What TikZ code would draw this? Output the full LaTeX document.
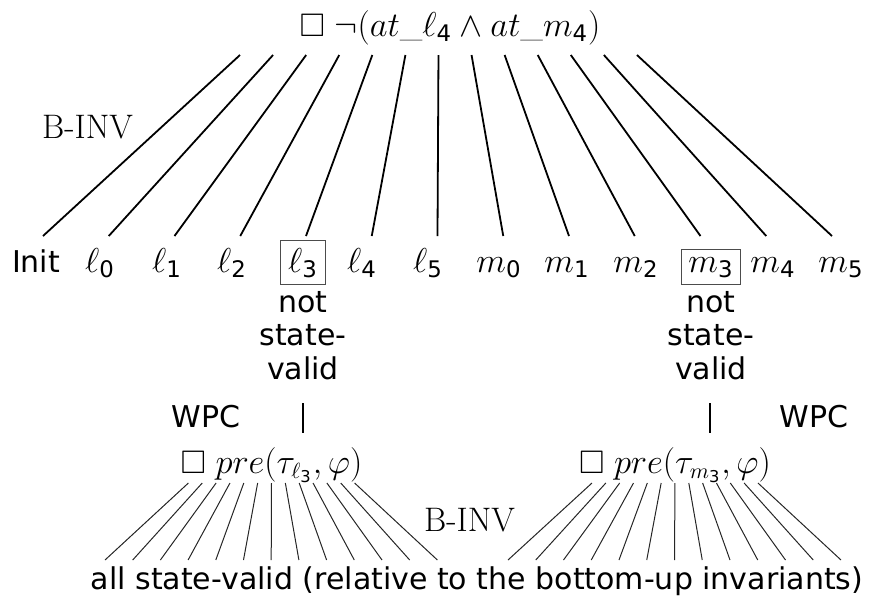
\documentclass[tikz,border=0pt]{standalone}
\usepackage{amsmath,amssymb}
\usepackage{fontspec}
\setsansfont{DejaVu Sans}
\newcommand{\sdig}[1]{\textsf{#1}}
\tikzset{
  every node/.style={inner sep=0pt, outer sep=0pt},
  txt/.style={font=\fontsize{15}{18}\selectfont\sffamily, anchor=base},
  mth/.style={font=\fontsize{16.3}{20}\selectfont, anchor=base},
  binv/.style={font=\fontsize{17}{21}\selectfont\rmfamily, anchor=base},
  boxed/.style={draw=black!70, line width=0.5pt, inner sep=3.7pt},
  fanbig/.style={line width=0.9pt},
  fansmall/.style={line width=0.5pt, black!85},
  tick/.style={line width=0.7pt}
}
\begin{document}
\begin{tikzpicture}[x=0.5pt, y=-0.5pt]
\useasboundingbox (0,0) rectangle (869,601);

% top formula
\node[mth] (top) at (450,36) {$\Box\;\neg(at\_\ell_{\sdig{4}}\wedge at\_m_{\sdig{4}})$};

% top fan
\foreach \i in {0,...,12} {
  \coordinate (t\i) at ({240+33.08*\i},55);
  \coordinate (b\i) at ({43+65.75*\i},236);
  \draw[fanbig] (t\i) -- (b\i);
}
\node[binv] (binv1) at (87.5,138) {B-INV};

% row of labels
\node[txt] (init) at (36,272) {Init};
\node[mth] (l0) at (100,272) {$\ell_{\sdig{0}}$};
\node[mth] (l1) at (167,272) {$\ell_{\sdig{1}}$};
\node[mth] (l2) at (232,272) {$\ell_{\sdig{2}}$};
\node[mth, boxed] (l3) at (303,272) {$\ell_{\sdig{3}}$};
\node[mth] (l4) at (362,272) {$\ell_{\sdig{4}}$};
\node[mth] (l5) at (428,272) {$\ell_{\sdig{5}}$};
\node[mth] (m0) at (499,272) {$m_{\sdig{0}}$};
\node[mth] (m1) at (567,272) {$m_{\sdig{1}}$};
\node[mth] (m2) at (636,272) {$m_{\sdig{2}}$};
\node[mth, boxed] (m3) at (711,272) {$m_{\sdig{3}}$};
\node[mth] (m4) at (773,272) {$m_{\sdig{4}}$};
\node[mth] (m5) at (841,272) {$m_{\sdig{5}}$};

% not state-valid
\node[txt] (la) at (303,312) {not};
\node[txt] (lb) at (303,345) {state-};
\node[txt] (lc) at (303,379) {valid};
\node[txt] (ma) at (711,312) {not};
\node[txt] (mb) at (711,345) {state-};
\node[txt] (mc) at (711,379) {valid};

% WPC
\node[txt] (wpcl) at (206,427) {WPC};
\node[txt] (wpcr) at (814,427) {WPC};
\coordinate (tla) at (303,403); \coordinate (tlb) at (303,433);
\coordinate (tra) at (710,403); \coordinate (trb) at (710,433);
\draw[tick] (tla) -- (tlb);
\draw[tick] (tra) -- (trb);

% pre nodes
\node[mth] (prel) at (271.5,473) {$\Box\;pre(\tau_{\ell_{\sdig{3}}},\varphi)$};
\node[mth] (prer) at (675,473) {$\Box\;pre(\tau_{m_{\sdig{3}}},\varphi)$};

% bottom fans
\foreach \i in {0,...,12} {
  \coordinate (lt\i) at ({188.4+13.85*\i},483);
  \coordinate (lb\i) at ({105+27.7*\i},560);
  \draw[fansmall] (lt\i) -- (lb\i);
  \coordinate (rt\i) at ({592+13.83*\i},483);
  \coordinate (rb\i) at ({508+27.75*\i},560);
  \draw[fansmall] (rt\i) -- (rb\i);
}
\node[binv] (binv2) at (469.5,531) {B-INV};

\node[txt] (bottom) at (477,589) {all state-valid (relative to the bottom-up invariants)};
\end{tikzpicture}
\end{document}
